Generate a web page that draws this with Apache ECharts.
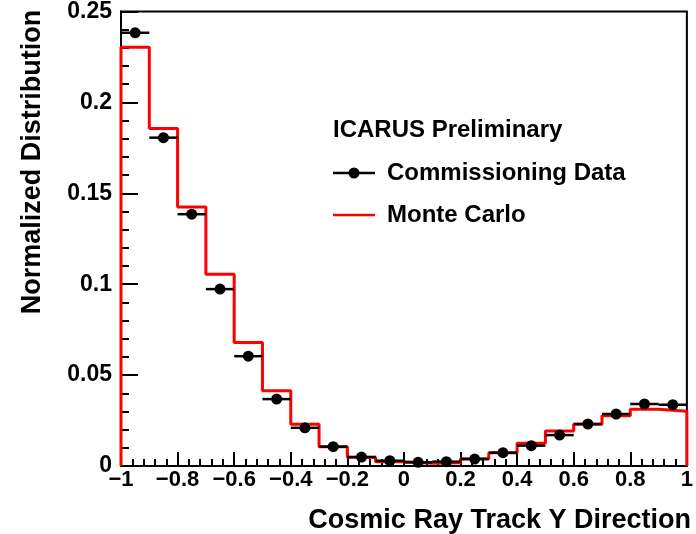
<!DOCTYPE html>
<html>
<head>
<meta charset="utf-8">
<script src="https://cdn.jsdelivr.net/npm/echarts@6/dist/echarts.min.js"></script>
<style>html,body{margin:0;padding:0;background:#fff;}#chart{width:696px;height:534px;}</style>
</head>
<body>
<div id="chart"></div>
<script>
// Bin edges (20 bins of width 0.1)
const binEdges = [-1, -0.9, -0.8, -0.7, -0.6, -0.5, -0.4, -0.3, -0.2, -0.1, 0, 0.1, 0.2, 0.3, 0.4, 0.5, 0.6, 0.7, 0.8, 0.9, 1];
// Commissioning Data (points)
const dataValues = [0.2383, 0.1806, 0.1385, 0.0973, 0.0604, 0.0368, 0.0210, 0.0106, 0.0049, 0.0029,
                    0.0020, 0.0024, 0.0038, 0.0073, 0.0112, 0.0170, 0.0231, 0.0286, 0.0341, 0.0337];
// Monte Carlo (histogram)
const mcValues = [0.2304, 0.1857, 0.1425, 0.1055, 0.0680, 0.0414, 0.0229, 0.0106, 0.0048, 0.0024,
                  0.0015, 0.0018, 0.0040, 0.0073, 0.0125, 0.0192, 0.0229, 0.0276, 0.0312, 0.0301];
// Tick labels
const xTickLabels = ['\u22121', '\u22120.8', '\u22120.6', '\u22120.4', '\u22120.2', '0', '0.2', '0.4', '0.6', '0.8', '1'];
const yTickLabels = ['0', '0.05', '0.1', '0.15', '0.2', '0.25'];
const xTitle = 'Cosmic Ray Track Y Direction';
const yTitle = 'Normalized Distribution';
const legendHeader = 'ICARUS Preliminary';
const dataName = 'Commissioning Data';
const mcName = 'Monte Carlo';

const FONT = '"Liberation Sans", Arial, Helvetica, sans-serif';

const pointData = dataValues.map((v, i) => [binEdges[i], binEdges[i + 1], v]);
const mcStep = [[binEdges[0], 0]];
mcValues.forEach((v, i) => mcStep.push([binEdges[i], v]));
mcStep.push([binEdges[binEdges.length - 1], mcValues[mcValues.length - 1]]);
mcStep.push([binEdges[binEdges.length - 1], 0]);

const chart = echarts.init(document.getElementById('chart'), null, {renderer: 'canvas'});
const option = {
  animation: false,
  backgroundColor: '#ffffff',
  grid: {left: 121, right: 4, top: 11, bottom: 68, show: true, borderColor: '#000', borderWidth: 2, backgroundColor: 'transparent'},
  xAxis: {
    type: 'value', min: -1, max: 1, interval: 0.2,
    axisLine: {show: true, onZero: false, lineStyle: {color: '#000', width: 2}},
    axisTick: {show: true, inside: true, length: 14, lineStyle: {color: '#000', width: 2}},
    minorTick: {show: true, splitNumber: 5, length: 7, lineStyle: {color: '#000', width: 2}},
    splitLine: {show: false},
    axisLabel: {
      color: '#000', fontSize: 22, fontWeight: 'bold', fontFamily: FONT, margin: 3,
      showMinLabel: true, showMaxLabel: true,
      formatter: v => xTickLabels[Math.round((v + 1) / 0.2)]
    }
  },
  yAxis: {
    type: 'value', min: 0, max: 0.25, interval: 0.05,
    axisLine: {show: true, onZero: false, lineStyle: {color: '#000', width: 2}},
    axisTick: {show: true, inside: true, length: 17, lineStyle: {color: '#000', width: 2}},
    minorTick: {show: true, splitNumber: 5, length: 8, lineStyle: {color: '#000', width: 2}},
    splitLine: {show: false},
    axisLabel: {
      color: '#000', fontSize: 23, fontWeight: 'bold', fontFamily: FONT, margin: 9,
      formatter: v => yTickLabels[Math.round(v / 0.05)]
    }
  },
  series: [
    {
      name: mcName, type: 'line', step: 'end', data: mcStep, showSymbol: false, symbol: 'none',
      clip: false, lineStyle: {color: '#ff0000', width: 3}, z: 3
    },
    {
      name: dataName, type: 'custom', data: pointData, encode: {x: [0, 1], y: 2}, z: 4, clip: false,
      renderItem: function (params, api) {
        const lo = api.coord([api.value(0), api.value(2)]);
        const hi = api.coord([api.value(1), api.value(2)]);
        const c = api.coord([(api.value(0) + api.value(1)) / 2, api.value(2)]);
        return {
          type: 'group',
          children: [
            {type: 'line', shape: {x1: lo[0], y1: lo[1], x2: hi[0], y2: hi[1]}, style: {stroke: '#000', lineWidth: 2.5}},
            {type: 'circle', shape: {cx: c[0], cy: c[1], r: 5.5}, style: {fill: '#000'}}
          ]
        };
      }
    }
  ],
  graphic: [
    {type: 'text', x: 33, y: 162, rotation: Math.PI / 2,
     style: {text: yTitle, fill: '#000', font: 'bold 27px ' + FONT, align: 'center', verticalAlign: 'middle'}},
    {type: 'text', x: 691, y: 521,
     style: {text: xTitle, fill: '#000', font: 'bold 27px ' + FONT, align: 'right', verticalAlign: 'middle'}},
    {type: 'text', x: 333, y: 130,
     style: {text: legendHeader, fill: '#000', font: 'bold 24px ' + FONT, align: 'left', verticalAlign: 'middle'}},
    {type: 'line', shape: {x1: 333, y1: 173, x2: 375, y2: 173}, style: {stroke: '#000', lineWidth: 2.5}},
    {type: 'circle', shape: {cx: 354, cy: 173, r: 5.5}, style: {fill: '#000'}},
    {type: 'text', x: 387, y: 173,
     style: {text: dataName, fill: '#000', font: 'bold 24px ' + FONT, align: 'left', verticalAlign: 'middle'}},
    {type: 'line', shape: {x1: 333, y1: 215, x2: 375, y2: 215}, style: {stroke: '#ff0000', lineWidth: 2.5}},
    {type: 'text', x: 387, y: 215,
     style: {text: mcName, fill: '#000', font: 'bold 24px ' + FONT, align: 'left', verticalAlign: 'middle'}}
  ]
};
chart.setOption(option);
</script>
</body>
</html>
